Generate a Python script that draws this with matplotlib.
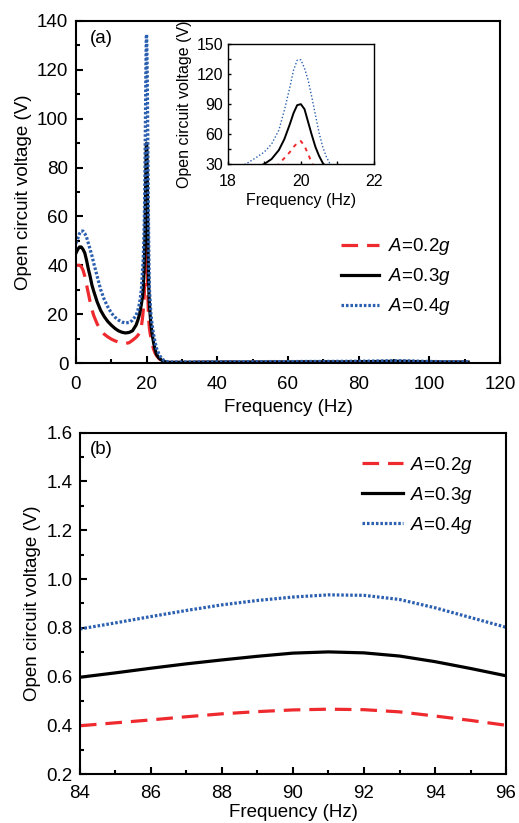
import numpy as np
import matplotlib
matplotlib.use('Agg')
import matplotlib.pyplot as plt
from matplotlib.ticker import MultipleLocator, FormatStrFormatter

plt.rcParams['font.family'] = ['Liberation Sans', 'DejaVu Sans']
plt.rcParams['mathtext.fontset'] = 'custom'
plt.rcParams['mathtext.rm'] = 'Liberation Sans'
plt.rcParams['mathtext.it'] = 'Liberation Sans:italic'

# ---- panel (a): full sweep ----
freq_a = [0, 0.5, 1, 1.5, 2, 2.5, 3, 3.5, 4, 4.5, 5, 6, 7, 8, 9, 10, 11, 12, 13, 14,
          15, 16, 17, 17.5, 18, 18.5, 18.8, 19.0, 19.2, 19.4, 19.55, 19.7, 19.8, 19.9,
          20.0, 20.1, 20.2, 20.3, 20.4, 20.5, 20.6, 20.7, 20.8, 21.0, 21.2, 21.4, 21.7,
          22.0, 22.4, 22.8, 23.5, 24.2, 25, 26, 27, 28, 30, 35, 40, 45, 50, 55, 60, 65,
          70, 75, 80, 84, 86, 88, 90, 92, 94, 96, 100, 105, 111]
v02_a = [40, 40, 40, 39.5, 38, 35.5, 32, 28.5, 25, 22, 19.5, 16, 13.5, 11.8, 10.7, 9.8,
         9.1, 8.6, 8.2, 8.0, 8.3, 9.3, 10.5, 11.3, 12.3, 15, 18, 21, 24.5, 30, 36, 42,
         47, 51, 53, 48, 40, 31, 25, 20, 17.5, 15.5, 14, 12, 10.5, 9, 7, 5.5, 4, 3, 1.8,
         1.0, 0.5, 0.3, 0.2, 0.2, 0.2, 0.25, 0.3, 0.3, 0.3, 0.3, 0.3, 0.35, 0.35, 0.35,
         0.4, 0.40, 0.42, 0.45, 0.46, 0.46, 0.44, 0.40, 0.35, 0.3, 0.3]
v03_a = [45, 46.5, 47.5, 47.5, 46.5, 45, 42, 38.5, 35.5, 32, 29.5, 25, 21.5, 19, 17,
         15.5, 14.2, 13.2, 12.6, 12.3, 12.5, 13.2, 15.5, 17.5, 20, 24, 27, 30, 35, 44,
         55, 70, 81, 89, 90, 85, 72, 59, 47, 38, 31, 26.5, 24, 19.5, 16, 13.5, 10.5, 8,
         5.5, 3.5, 2, 1.2, 0.6, 0.3, 0.3, 0.3, 0.3, 0.35, 0.4, 0.4, 0.4, 0.45, 0.45,
         0.5, 0.5, 0.5, 0.55, 0.60, 0.635, 0.668, 0.696, 0.696, 0.66, 0.60, 0.5, 0.45, 0.4]
v04_a = [49, 51, 53, 54, 54, 53, 51.5, 49, 46.5, 44, 41, 35.5, 30, 26, 23, 20.5, 18.8,
         17.6, 16.8, 16.4, 16.6, 17.5, 19.5, 21.5, 24.5, 30, 37, 42, 50, 64, 84, 107,
         124, 134, 134.5, 126, 114, 97, 79, 61, 47, 37, 30, 25, 20.3, 17.5, 14, 11.5,
         8.5, 6, 3.6, 1.9, 1.0, 0.5, 0.4, 0.4, 0.4, 0.45, 0.5, 0.55, 0.55, 0.6, 0.6,
         0.65, 0.65, 0.7, 0.75, 0.795, 0.846, 0.894, 0.925, 0.932, 0.88, 0.80, 0.65,
         0.55, 0.5]

# ---- panel (b): zoom on 84-96 Hz ----
freq_b = [84, 85, 86, 87, 88, 89, 90, 91, 92, 93, 94, 95, 96]
v02_b = [0.398, 0.41, 0.422, 0.435, 0.447, 0.456, 0.463, 0.466, 0.464, 0.455, 0.438, 0.42, 0.40]
v03_b = [0.597, 0.615, 0.634, 0.652, 0.668, 0.683, 0.696, 0.701, 0.697, 0.684, 0.661, 0.633, 0.603]
v04_b = [0.795, 0.82, 0.846, 0.871, 0.894, 0.912, 0.926, 0.935, 0.933, 0.916, 0.882, 0.842, 0.802]

labels = ['$A$=0.2$g$', '$A$=0.3$g$', '$A$=0.4$g$']
red = '#ee2a2e'
blue = '#2b5fb0'
FS = 13.5


def style_axes(ax, fs=FS, lw=1.5, xpad=9.5, ypad=5.5):
    for s in ax.spines.values():
        s.set_linewidth(lw)
    ax.tick_params(which='both', direction='in', top=False, right=False,
                   labelsize=fs, width=lw)
    ax.tick_params(axis='x', pad=xpad)
    ax.tick_params(axis='y', pad=ypad)
    ax.tick_params(which='major', length=5)
    ax.tick_params(which='minor', length=3)


def draw(ax, f, r, k, b, lw=2.3):
    ax.plot(f, r, color=red, lw=lw, ls=(0, (5.2, 2.8)), label=labels[0])
    ax.plot(f, k, color='black', lw=lw, ls='-', label=labels[1])
    ax.plot(f, b, color=blue, lw=lw, ls=(0, (0.8, 0.6)), label=labels[2])


leg_kw = dict(loc='upper left', frameon=False, fontsize=FS, handlelength=2.05,
              handletextpad=0.45, labelspacing=0.48, borderpad=0, borderaxespad=0)

fig = plt.figure(figsize=(5.19, 8.23), dpi=100)

ax1 = fig.add_axes([0.1464, 0.5589, 0.817, 0.4156])
draw(ax1, freq_a, v02_a, v03_a, v04_a)
ax1.set_xlim(0, 120)
ax1.set_ylim(0, 140)
ax1.xaxis.set_major_locator(MultipleLocator(20))
ax1.xaxis.set_minor_locator(MultipleLocator(10))
ax1.yaxis.set_major_locator(MultipleLocator(20))
ax1.yaxis.set_minor_locator(MultipleLocator(10))
style_axes(ax1)
ax1.set_xlabel('Frequency (Hz)', fontsize=FS, labelpad=4)
ax1.set_ylabel('Open circuit voltage (V)', fontsize=FS, labelpad=3.5)
ax1.text(0.033, 0.975, '(a)', transform=ax1.transAxes, fontsize=FS, va='top')
ax1.legend(bbox_to_anchor=(0.625, 0.37), **leg_kw)

# inset: zoom on the resonance peak
ins = fig.add_axes([0.4387, 0.8007, 0.2819, 0.1455])
ins.plot(freq_a, v02_a, color=red, lw=1.4, ls=(0, (2, 2.5)))
ins.plot(freq_a, v03_a, color='black', lw=1.4)
ins.plot(freq_a, v04_a, color=blue, lw=1.0, ls=(0, (1, 1.5)))
ins.set_xlim(18, 22)
ins.set_ylim(30, 150)
ins.xaxis.set_major_locator(MultipleLocator(2))
ins.xaxis.set_minor_locator(MultipleLocator(1))
ins.yaxis.set_major_locator(MultipleLocator(30))
ins.yaxis.set_minor_locator(MultipleLocator(15))
style_axes(ins, fs=11.5, lw=1.0, xpad=7, ypad=3.4)
ins.tick_params(which='both', length=2.5)
ins.set_xlabel('Frequency (Hz)', fontsize=11.5, labelpad=3)
ins.set_ylabel('Open circuit voltage (V)', fontsize=11.5, labelpad=3)

ax2 = fig.add_axes([0.154, 0.0595, 0.821, 0.4147])
draw(ax2, freq_b, v02_b, v03_b, v04_b)
ax2.set_xlim(84, 96)
ax2.set_ylim(0.2, 1.6)
ax2.xaxis.set_major_locator(MultipleLocator(2))
ax2.xaxis.set_minor_locator(MultipleLocator(1))
ax2.yaxis.set_major_locator(MultipleLocator(0.2))
ax2.yaxis.set_minor_locator(MultipleLocator(0.1))
ax2.yaxis.set_major_formatter(FormatStrFormatter('%.1f'))
style_axes(ax2, xpad=8, ypad=5.3)
ax2.set_xlabel('Frequency (Hz)', fontsize=FS, labelpad=1)
ax2.set_ylabel('Open circuit voltage (V)', fontsize=FS, labelpad=3.5)
ax2.text(0.0235, 0.975, '(b)', transform=ax2.transAxes, fontsize=FS, va='top')
ax2.legend(bbox_to_anchor=(0.662, 0.936), **dict(leg_kw, handlelength=2.2, handletextpad=0.37))

fig.savefig('out.png', dpi=100)
